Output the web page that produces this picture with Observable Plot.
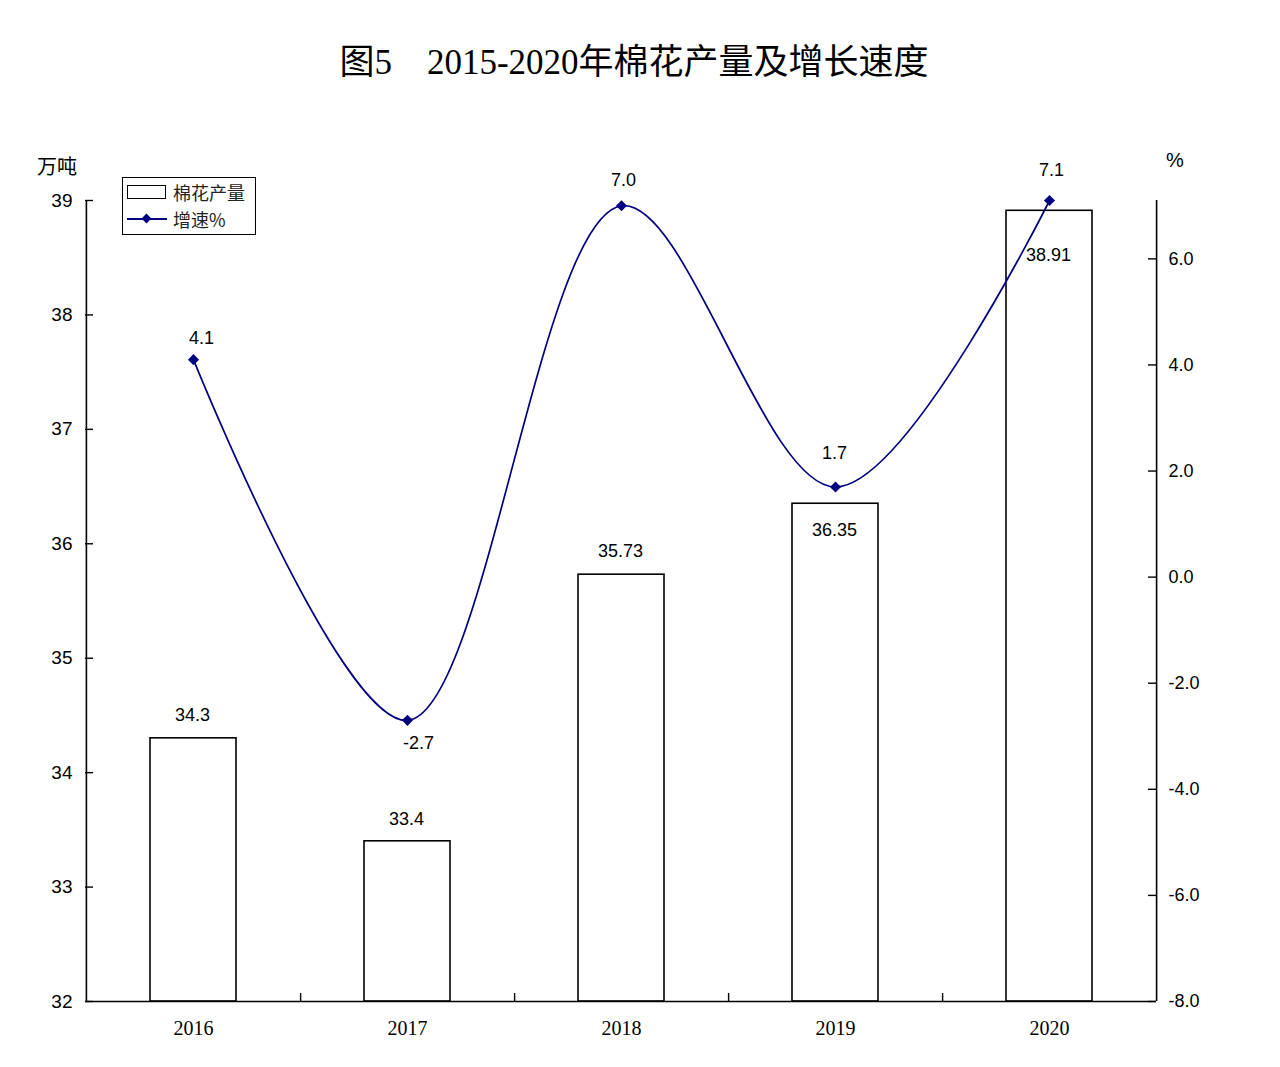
<!DOCTYPE html>
<html><head><meta charset="utf-8">
<script src="https://cdn.jsdelivr.net/npm/d3@7"></script>
<script src="https://cdn.jsdelivr.net/npm/@observablehq/plot@0.6"></script>
<style>
body{margin:0;background:#fff;}
#wrap{position:relative;width:1280px;height:1067px;overflow:hidden;}
#title{position:absolute;left:0;top:40px;width:1268px;text-align:center;font-size:35px;line-height:46px;font-family:"Liberation Serif","Noto Sans CJK SC",serif;color:#000;white-space:pre;}
#chart{position:absolute;left:0;top:100px;}
.unit{position:absolute;font-family:"Liberation Sans","Noto Sans CJK SC",sans-serif;font-size:20px;line-height:24px;color:#000;}
#legend{position:absolute;left:122px;top:177px;width:132px;height:56px;border:1.5px solid #000;background:#fff;}
#legend .sw{position:absolute;left:4px;top:7px;width:37px;height:12px;border:1.5px solid #000;}
#legend .ln{position:absolute;left:4px;top:40px;width:40px;height:2px;background:#000080;}
#legend .dm{position:absolute;left:20px;top:37px;width:7px;height:7px;background:#000080;transform:rotate(45deg);}
#legend .tx{position:absolute;left:50px;font-family:"Noto Sans CJK SC",sans-serif;font-size:18px;line-height:22px;color:#222;}
</style>
</head><body>
<div id="wrap">
  <div id="title">图5　2015-2020年棉花产量及增长速度</div>
  <div id="chart"></div>
  <div class="unit" style="left:37px;top:155px;">万吨</div>
  <div class="unit" style="left:1166px;top:148px;">%</div>
  <div id="legend">
    <div class="sw"></div><div class="tx" style="top:3px;">棉花产量</div>
    <div class="ln"></div><div class="dm"></div><div class="tx" style="top:30px;">增速%</div>
  </div>
</div>
<script>
const years = ["2016", "2017", "2018", "2019", "2020"];
const output = [34.3, 33.4, 35.73, 36.35, 38.91];      // 万吨
const growth = [4.1, -2.7, 7.0, 1.7, 7.1];             // %
const leftTicks = [32, 33, 34, 35, 36, 37, 38, 39];
const rightTicks = [-8, -6, -4, -2, 0, 2, 4, 6];

const leftDomain = [32, 39];
const rightDomain = [-8, 7.1];
const toLeft = v => leftDomain[0] + (v - rightDomain[0]) * (leftDomain[1] - leftDomain[0]) / (rightDomain[1] - rightDomain[0]);
const fromLeft = v => rightDomain[0] + (v - leftDomain[0]) * (rightDomain[1] - rightDomain[0]) / (leftDomain[1] - leftDomain[0]);

const W = 1280, H = 967, mT = 100, mB = 66, mL = 85, mR = 124;
const plotW = W - mL - mR, plotH = H - mT - mB;
const step = plotW / years.length;
const navy = "#000080";
const sans = "Liberation Sans, Arial, sans-serif";

const rows = years.map((year, i) => ({year, output: output[i], growth: growth[i], g: toLeft(growth[i])}));

const barLabel = (i, dy) => Plot.text([rows[i]], {x: "year", y: "output", text: d => String(d.output), dx: -1, dy, fontSize: 18, fontFamily: sans, fill: "#000"});
const lineLabel = (i, dx, dy) => Plot.text([rows[i]], {x: "year", y: "g", text: d => d.growth.toFixed(1), dx, dy, fontSize: 18, fontFamily: sans, fill: "#000"});

const chart = Plot.plot({
  width: W, height: H,
  marginTop: mT, marginBottom: mB, marginLeft: mL, marginRight: mR,
  style: {fontFamily: sans, fontSize: "18px", color: "#000", background: "transparent"},
  x: {domain: years, paddingInner: 0.6, paddingOuter: 0.3, axis: null, label: null},
  y: {domain: leftDomain, axis: null, label: null},
  marks: [
    Plot.barY(rows, {x: "year", y1: leftDomain[0], y2: "output", fill: "white", stroke: "#000", strokeWidth: 1.6}),
    // axis lines
    Plot.ruleY([leftDomain[0]], {stroke: "#000", strokeWidth: 1.6}),
    Plot.ruleX([years[0]], {dx: -step / 2, stroke: "#000", strokeWidth: 1.6}),
    Plot.ruleX([years[years.length - 1]], {dx: step / 2, stroke: "#000", strokeWidth: 1.6}),
    // inward ticks
    Plot.tickY(leftTicks, {y: d => d, insetRight: plotW - 8, stroke: "#000", strokeWidth: 1.4}),
    Plot.tickY(rightTicks.map(toLeft), {y: d => d, insetLeft: plotW - 8, stroke: "#000", strokeWidth: 1.4}),
    Plot.tickX(years.slice(0, -1), {x: d => d, dx: step / 2, insetTop: plotH - 8, stroke: "#000", strokeWidth: 1.4}),
    // axes text
    Plot.axisY(leftTicks, {anchor: "left", tickSize: 0, tickPadding: 13, fontSize: 19, fontFamily: sans, label: null,
      tickFormat: d => d.toFixed(0)}),
    Plot.axisY(rightTicks.map(toLeft), {anchor: "right", tickSize: 0, tickPadding: 12, fontSize: 18, fontFamily: sans, label: null,
      tickFormat: d => fromLeft(d).toFixed(1)}),
    Plot.axisX(years, {anchor: "bottom", tickSize: 0, tickPadding: 19, fontSize: 20, fontFamily: "Liberation Serif, serif", label: null}),
    // growth line
    Plot.line(rows, {x: "year", y: "g", curve: "catmull-rom", stroke: navy, strokeWidth: 1.7}),
    Plot.dot(rows, {x: "year", y: "g", symbol: "diamond2", r: 5, fill: navy, stroke: "none"}),
    // labels
    barLabel(0, -23), barLabel(1, -22), barLabel(2, -23), barLabel(3, 26), barLabel(4, 44),
    lineLabel(0, 8, -21), lineLabel(1, 11, 23), lineLabel(2, 2, -26), lineLabel(3, -1, -34), lineLabel(4, 2, -30)
  ]
});
document.getElementById("chart").appendChild(chart);
</script>
</body></html>
